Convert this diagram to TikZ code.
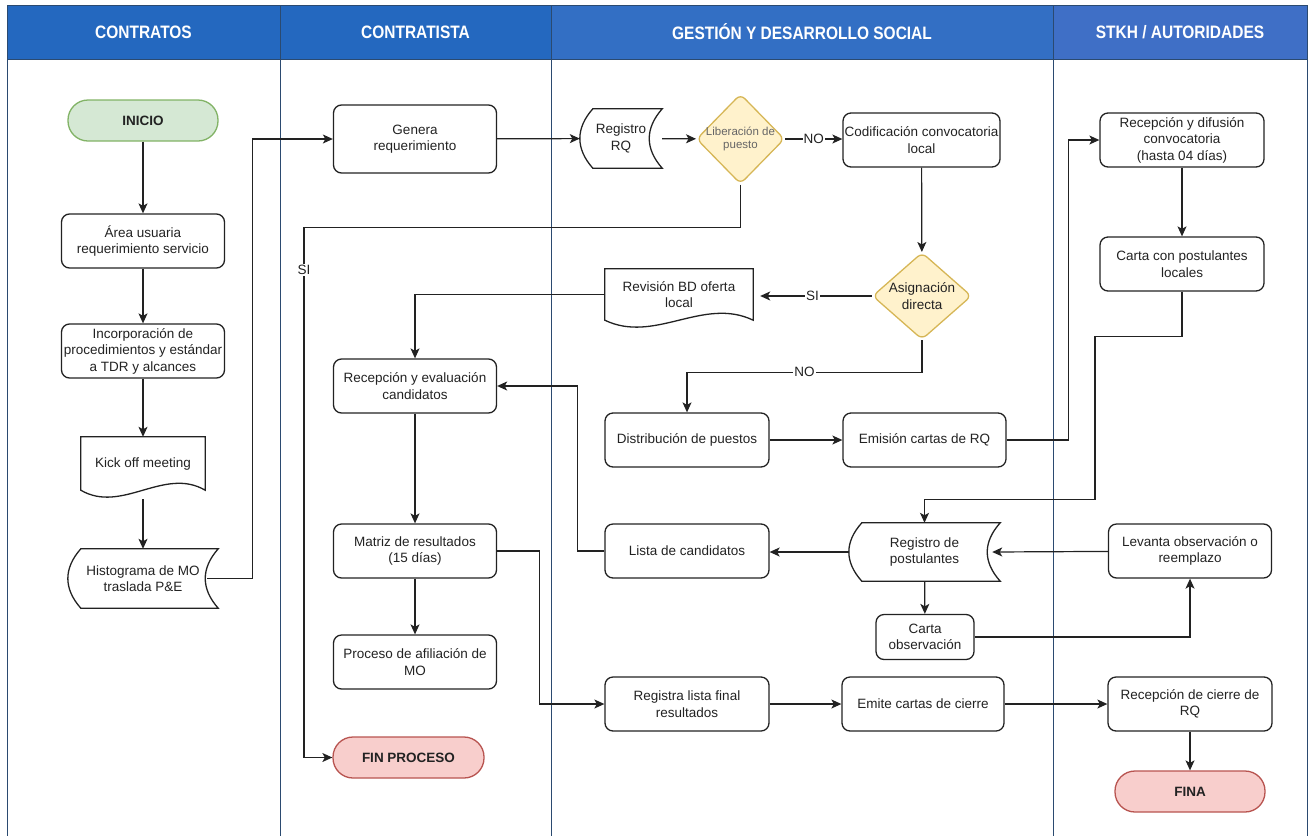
\documentclass[tikz,border=0pt]{standalone}
\usepackage{fontspec}
\setmainfont{Liberation Sans}
\usetikzlibrary{shapes.geometric,arrows.meta,calc}

\definecolor{hdrblue}{HTML}{2468BF}
\definecolor{hdrmid}{HTML}{336FC4}
\definecolor{hdrlight}{HTML}{3F6FC6}
\definecolor{laneline}{HTML}{2B4A70}
\definecolor{startfill}{HTML}{D5E8D4}
\definecolor{startline}{HTML}{82B366}
\definecolor{endfill}{HTML}{F8CECC}
\definecolor{endline}{HTML}{B85450}
\definecolor{decfill}{HTML}{FFF2CC}
\definecolor{decline}{HTML}{D6B656}
\definecolor{ink}{HTML}{222222}

\tikzset{
  boxfont/.style={font=\fontsize{13.5}{16.5}\selectfont, text=ink},
  lanehead/.style={draw=laneline, line width=1pt, minimum height=54pt, text=white,
    font=\fontsize{18}{20}\selectfont\bfseries},
  proc/.style={boxfont, draw=ink, line width=1.3pt, rounded corners=8pt, align=center,
    inner sep=1.5pt, minimum width=163pt, minimum height=54pt},
  pill/.style={proc, rounded corners=20pt, minimum width=150pt, minimum height=41pt,
    font=\fontsize{13.5}{16.5}\selectfont\bfseries},
  plainshape/.style={boxfont, align=center, inner sep=1.5pt},
  shapeline/.style={draw=ink, line width=1.3pt},
  decision/.style={diamond, draw=decline, fill=decfill, line width=1.3pt,
    rounded corners=6pt, inner sep=0pt},
  flow/.style={draw=ink, line width=1.2pt, -{Stealth[length=10pt,width=9pt,inset=2.5pt]}},
  lbl/.style={boxfont, fill=white, inner sep=1pt}
}

% document outline with a wavy bottom
\newcommand{\docshape}[2]{%
  \draw[shapeline] (#1.north west) -- (#1.north east) -- (#1.south east)
    .. controls +(-#2,-24) and +(#2,24) .. (#1.south west) -- cycle;}

% stored data outline (round left side, hollow right side)
\newcommand{\storeshape}[2]{%
  \draw[shapeline] ($(#1.north west)+(#2,0)$) -- (#1.north east)
    .. controls ($(#1.north east)!.33!(#1.south east)+(-1.33*#2,0)$)
    and ($(#1.north east)!.67!(#1.south east)+(-1.33*#2,0)$) .. (#1.south east)
    -- ($(#1.south west)+(#2,0)$)
    .. controls ($(#1.south west)!.33!(#1.north west)+(-0.33*#2,0)$)
    and ($(#1.south west)!.67!(#1.north west)+(-0.33*#2,0)$) .. ($(#1.north west)+(#2,0)$) -- cycle;}

\newcommand{\lanetitle}[1]{\scalebox{0.86}[1]{#1}}

\begin{document}
\begin{tikzpicture}[x=1pt, y=-1pt]
\useasboundingbox (0,0) rectangle (1311,836);

% lanes
\node[lanehead, fill=hdrblue, minimum width=273pt] (hcon) at (143.5,32) {\lanetitle{CONTRATOS}};
\node[lanehead, fill=hdrblue, minimum width=271pt] (hcta) at (415.5,32) {\lanetitle{CONTRATISTA}};
\node[lanehead, fill=hdrmid, minimum width=502pt] (hgds) at (802,32) {\lanetitle{GESTIÓN Y DESARROLLO SOCIAL}};
\node[lanehead, fill=hdrlight, minimum width=254pt] (hstk) at (1180,32) {\lanetitle{STKH / AUTORIDADES}};
\foreach \lx in {7,280,551,1053,1307}
  \draw[laneline, line width=1pt] (\lx,59) -- (\lx,836);

% CONTRATOS
\node[pill, fill=startfill, draw=startline] (start) at (143,120.5) {INICIO};
\node[proc] (area) at (143,241) {Área usuaria\\requerimiento servicio};
\node[proc] (incorp) at (143,351) {Incorporación de\\procedimientos y estándar\\a TDR y alcances};
\node[plainshape, minimum width=124pt, minimum height=53pt] (kick) at (143,463.5) {Kick off meeting};
\docshape{kick}{41}
\node[plainshape, minimum width=150pt, minimum height=59pt] (hist) at (143,578.5) {Histograma de MO\\traslada P\&E};
\storeshape{hist}{13}

% CONTRATISTA
\node[proc, minimum height=68pt] (gen) at (415,139) {Genera\\requerimiento};
\node[proc] (recep) at (415,386) {Recepción y evaluación\\candidatos};
\node[proc] (matriz) at (415,551) {Matriz de resultados\\(15 días)};
\node[proc] (afil) at (415,662) {Proceso de afiliación de\\MO};
\node[pill, fill=endfill, draw=endline, minimum width=151pt] (fin) at (408.5,757.5) {FIN PROCESO};

% GESTION Y DESARROLLO SOCIAL
\node[plainshape, minimum width=82pt, minimum height=59pt] (rrq) at (621,138.5) {Registro\\RQ};
\storeshape{rrq}{13}
\node[decision, minimum width=88pt, minimum height=90pt,
  label={[font=\fontsize{11.5}{13.5}\selectfont, text=black!60, align=center]center:Liberación de\\puesto}] (lib) at (740.5,139) {};
\node[proc, minimum width=157pt] (cod) at (921.5,140) {Codificación convocatoria\\local};
\node[decision, minimum width=99pt, minimum height=87pt,
  label={[boxfont, align=center]center:Asignación\\directa}] (asig) at (922,296) {};
\node[plainshape, minimum width=148pt, minimum height=51pt] (rev) at (679,294.5) {Revisión BD oferta\\local};
\docshape{rev}{50}
\node[proc, minimum width=164pt] (dist) at (687,440) {Distribución de puestos};
\node[proc] (emis) at (924.5,440) {Emisión cartas de RQ};
\node[proc, minimum width=164pt] (lista) at (687,551) {Lista de candidatos};
\node[plainshape, minimum width=151pt, minimum height=58pt] (rpost) at (924.5,552) {Registro de\\postulantes};
\storeshape{rpost}{13}
\node[proc, minimum width=98pt, minimum height=45pt] (cobs) at (925,637) {Carta\\observación};
\node[proc, minimum width=164pt] (regfin) at (687,704) {Registra lista final\\resultados};
\node[proc, minimum width=162pt] (emite) at (923,704) {Emite cartas de cierre};

% STKH / AUTORIDADES
\node[proc, minimum width=164pt] (recdif) at (1182,140) {Recepción y difusión\\convocatoria\\(hasta 04 días)};
\node[proc, minimum width=164pt] (carta) at (1182,264) {Carta con postulantes\\locales};
\node[proc] (lev) at (1190,551) {Levanta observación o\\reemplazo};
\node[proc, minimum width=164pt] (reccie) at (1190,704) {Recepción de cierre de\\RQ};
\node[pill, fill=endfill, draw=endline] (fina) at (1190,791.5) {FINA};

% connectors
\draw[flow] (start) -- (area);
\draw[flow] (area) -- (incorp);
\draw[flow] (incorp) -- (kick);
\draw[flow] ($(kick.south)+(0,9)$) -- (hist);
\draw[flow] ($(hist.east)+(-11,0)$) -- ++(45,0) |- (gen);
\draw[flow] (gen) -- (rrq);
\draw[flow] (rrq) -- (lib);
\draw[flow] (lib.east) -- node[lbl]{NO} (lib.east -| cod.west);
\draw[flow] (lib.south) -- ++(0,43) -- ++(-436.5,0) |- node[lbl, pos=0.04]{SI} (fin);
\draw[flow] (cod) -- (asig);
\draw[flow, shorten >=7pt] (asig.west) -- node[lbl]{SI} (asig.west -| rev.east);
\draw[flow] (rev) -| (recep);
\draw[flow] (asig.south) -- ++(0,32) -| node[lbl, pos=0.25]{NO} (dist);
\draw[flow] (dist) -- (emis);
\draw[flow] (emis.east) -- ++(62,0) |- (recdif);
\draw[flow] (recdif) -- (carta);
\draw[flow] (carta.south) -- ++(0,45) -- ++(-87,0) -- ++(0,163) -| (rpost);
\draw[flow] (rpost.west) -- (rpost.west -| lista.east);
\draw[flow] (lista.west) -- ++(-27,0) |- (recep);
\draw[flow] (recep) -- (matriz);
\draw[flow] (matriz) -- (afil);
\draw[flow] (matriz.east) -- ++(42,0) |- (regfin);
\draw[flow] (regfin) -- (emite);
\draw[flow] (emite) -- (reccie);
\draw[flow] (reccie) -- (fina);
\draw[flow] (rpost) -- (cobs);
\draw[flow] (cobs) -| (lev);
\draw[flow] (lev) -- ($(rpost.east)+(-8,0)$);
\end{tikzpicture}
\end{document}
